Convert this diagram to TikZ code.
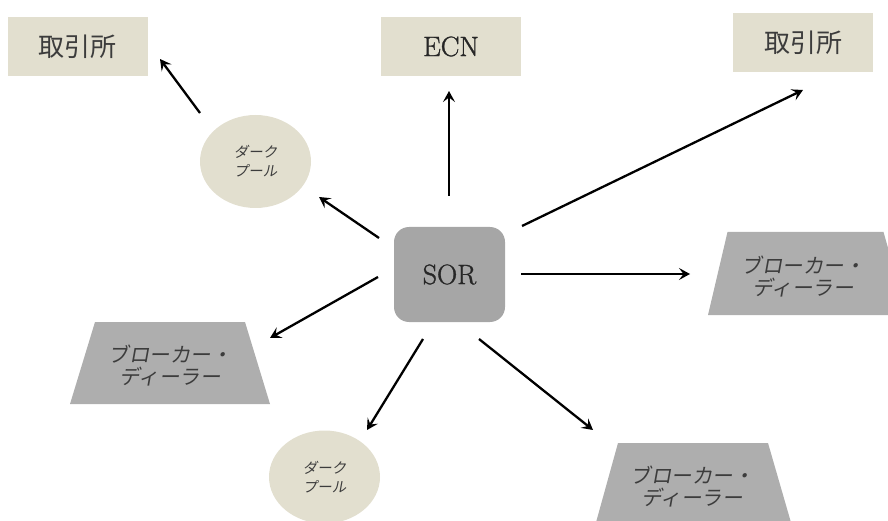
\documentclass[tikz,border=0pt]{standalone}
\usepackage{fontspec}
\newfontfamily\jp{Noto Sans CJK JP}
\newfontfamily\jpsl{Noto Sans CJK JP}[FakeSlant=0.18]
\newfontfamily\serifw{Latin Modern Roman}[FakeBold=1.2]
\usetikzlibrary{shapes.geometric,arrows.meta,backgrounds}
\definecolor{beige}{RGB}{226,223,207}
\definecolor{sorgray}{RGB}{166,166,166}
\definecolor{trapgray}{RGB}{174,174,174}
\definecolor{jptext}{RGB}{60,60,60}
\begin{document}
\begin{tikzpicture}[x=1pt,y=-1pt,
  exbox/.style={rectangle, fill=beige, minimum width=140pt, minimum height=59pt, inner sep=0pt,
    font=\jp\fontsize{26}{30}\selectfont, text=jptext},
  ecnbox/.style={rectangle, fill=beige, minimum width=140pt, minimum height=59pt, inner sep=0pt,
    font=\serifw\fontsize{28}{32}\selectfont, text=black!85},
  pool/.style={ellipse, fill=beige, minimum width=111pt, minimum height=93pt, inner sep=0pt,
    align=center, font=\jpsl\fontsize{14.5}{19}\selectfont, text=jptext},
  traptext/.style={inner sep=0pt, align=center, font=\jpsl\fontsize{20.5}{22}\selectfont, text=jptext},
  trapfill/.style={fill=trapgray},
  sorbox/.style={rectangle, rounded corners=15pt, fill=sorgray, minimum width=111pt,
    minimum height=95pt, inner sep=0pt, font=\serifw\fontsize{28}{32}\selectfont, text=black!85},
  arr/.style={line width=2.3pt, -{Stealth[length=11pt,width=12pt,inset=4.5pt]}}
]
\useasboundingbox (0,0) rectangle (888,521);
\clip (0,0) rectangle (888,521);

\node[exbox]  (ex1) at (77.5,46.5) {取引所};
\node[ecnbox] (ecn) at (451,46.5) {ECN};
\node[exbox]  (ex2) at (803,43) {取引所};
\node[sorbox] (sor) at (449.5,274.5) {SOR};
\node[pool]   (dp1) at (255.5,161.5) {ダーク\\プール};
\node[pool]   (dp2) at (324.5,477) {ダーク\\プール};
\node[traptext] (bd1) at (803,277) {ブローカー・\\ディーラー};
\node[traptext] (bd2) at (170,366) {ブローカー・\\ディーラー};
\node[traptext] (bd3) at (692,487) {ブローカー・\\ディーラー};

\begin{scope}[on background layer]
\fill[trapfill] ([shift={(-75.5,-45)}]bd1.center) -- ([shift={(80.5,-45)}]bd1.center)
  -- ([shift={(104,38)}]bd1.center) -- ([shift={(-95,38)}]bd1.center) -- cycle;
\fill[trapfill] ([shift={(-75,-44)}]bd2.center) -- ([shift={(75,-44)}]bd2.center)
  -- ([shift={(100,38)}]bd2.center) -- ([shift={(-100,38)}]bd2.center) -- cycle;
\fill[trapfill] ([shift={(-74,-44)}]bd3.center) -- ([shift={(76,-44)}]bd3.center)
  -- ([shift={(100,39)}]bd3.center) -- ([shift={(-97,39)}]bd3.center) -- cycle;
\end{scope}

\draw[arr] ([shift={(-55.5,-48.5)}]dp1.center) -- ([shift={(82.5,12.5)}]ex1.center);
\draw[arr] ([shift={(-70.5,-36.5)}]sor.center) -- ([shift={(63.5,35.5)}]dp1.center);
\draw[arr] ([shift={(-0.5,-78.5)}]sor.center) -- ([shift={(-2,44.5)}]ecn.center);
\draw[arr] ([shift={(72.5,-48.5)}]sor.center) -- ([shift={(0,47)}]ex2.center);
\draw[arr] ([shift={(71.5,-0.5)}]sor.center) -- ([shift={(-113,-3)}]bd1.center);
\draw[arr] ([shift={(-71.5,2.5)}]sor.center) -- ([shift={(100,-28)}]bd2.center);
\draw[arr] ([shift={(-26.5,64.5)}]sor.center) -- ([shift={(42.5,-47)}]dp2.center);
\draw[arr] ([shift={(29.5,64.5)}]sor.center) -- ([shift={(-99,-57)}]bd3.center);
\end{tikzpicture}
\end{document}
